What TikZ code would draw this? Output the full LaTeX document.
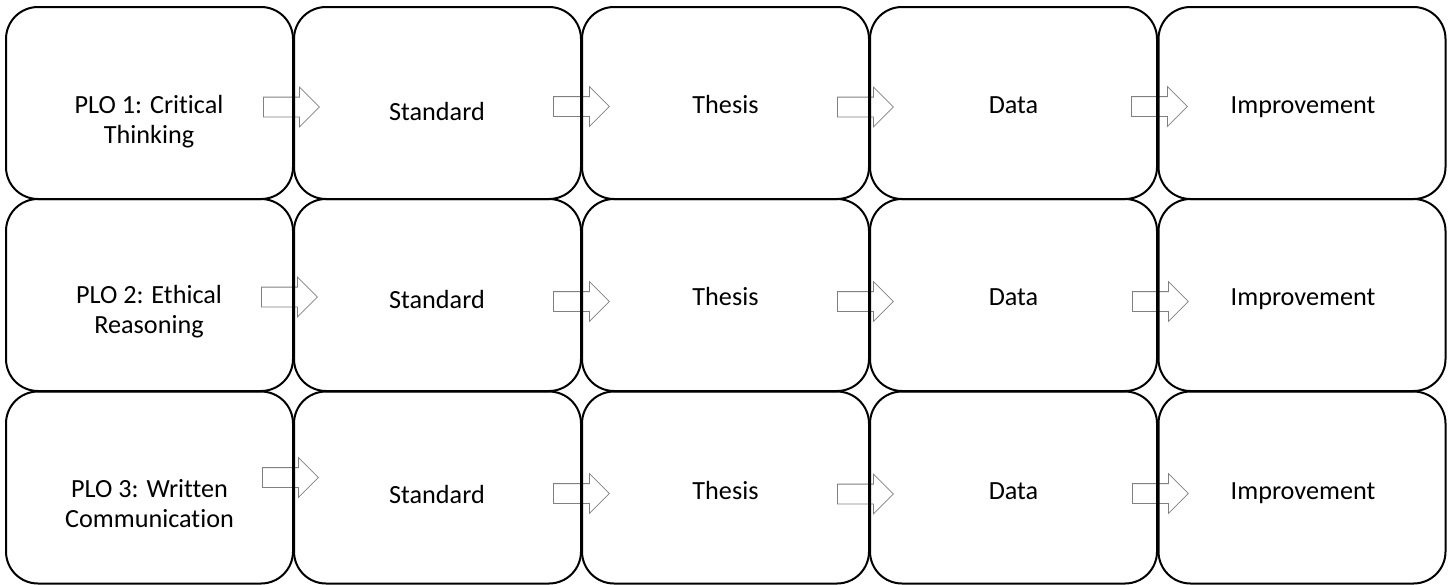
\documentclass[tikz,border=0pt]{standalone}
\usepackage{fontspec}
\setmainfont{Carlito}[Ligatures=NoCommon]
\usetikzlibrary{shapes.arrows,calc}
\pgfdeclarelayer{background}
\pgfsetlayers{background,main}
\begin{document}
\begin{tikzpicture}[x=1pt,y=-1pt,
  box/.style={draw=black, line width=2pt, rectangle, rounded corners=32pt,
    minimum width=287pt, minimum height=192pt, inner sep=0pt, outer sep=0pt},
  lbl/.style={font=\fontsize{26.2}{30}\selectfont, align=center, inner sep=0pt, anchor=base},
  blockarrow/.style={single arrow, draw=black!50, fill=white, line width=0.8pt,
    minimum width=39pt, minimum height=56pt, single arrow head extend=10pt,
    inner xsep=0pt, inner ysep=9.5pt, anchor=tail}]
\useasboundingbox (0,0) rectangle (1455,584);
% boxes
\foreach \r/\y in {1/103,2/295,3/487.5}{
  \foreach \c/\x in {1/149.5,2/437.5,3/725.5,4/1013.5,5/1302}{
    \node[box] (b\r\c) at (\x,\y) {};
  }
}
% labels
\node[lbl] (t11) at (149,143) {PLO 1: Critical\\Thinking};
\node[lbl] (t12) at (437,120) {Standard};
\node[lbl] (t13) at (725.5,113) {Thesis};
\node[lbl] (t14) at (1013.5,113) {Data};
\node[lbl] (t15) at (1303,113) {Improvement};
\node[lbl] (t21) at (149,333) {PLO 2: Ethical\\Reasoning};
\node[lbl] (t22) at (437,308) {Standard};
\node[lbl] (t23) at (725.5,305) {Thesis};
\node[lbl] (t24) at (1013.5,305) {Data};
\node[lbl] (t25) at (1303,305) {Improvement};
\node[lbl] (t31) at (149.5,527) {PLO 3: Written\\Communication};
\node[lbl] (t32) at (437,503) {Standard};
\node[lbl] (t33) at (725.5,499) {Thesis};
\node[lbl] (t34) at (1013.5,499) {Data};
\node[lbl] (t35) at (1303,499) {Improvement};
% arrows
\begin{pgfonlayer}{background}
\node[blockarrow] (a11) at ($(b11.east)+(-30,4)$) {};
\node[blockarrow] (a12) at ($(b12.east)+(-28,3.5)$) {};
\node[blockarrow] (a13) at ($(b13.east)+(-32,4)$) {};
\node[blockarrow] (a14) at ($(b14.east)+(-26,3.5)$) {};
\node[blockarrow] (a21) at ($(b21.east)+(-32,2)$) {};
\node[blockarrow] (a22) at ($(b22.east)+(-28,6.5)$) {};
\node[blockarrow] (a23) at ($(b23.east)+(-32,6.5)$) {};
\node[blockarrow] (a24) at ($(b24.east)+(-25,6.5)$) {};
\node[blockarrow] (a31) at ($(b31.east)+(-31,-10)$) {};
\node[blockarrow] (a32) at ($(b32.east)+(-28,6)$) {};
\node[blockarrow] (a33) at ($(b33.east)+(-32,6.5)$) {};
\node[blockarrow] (a34) at ($(b34.east)+(-25,6)$) {};
\end{pgfonlayer}
\end{tikzpicture}
\end{document}
